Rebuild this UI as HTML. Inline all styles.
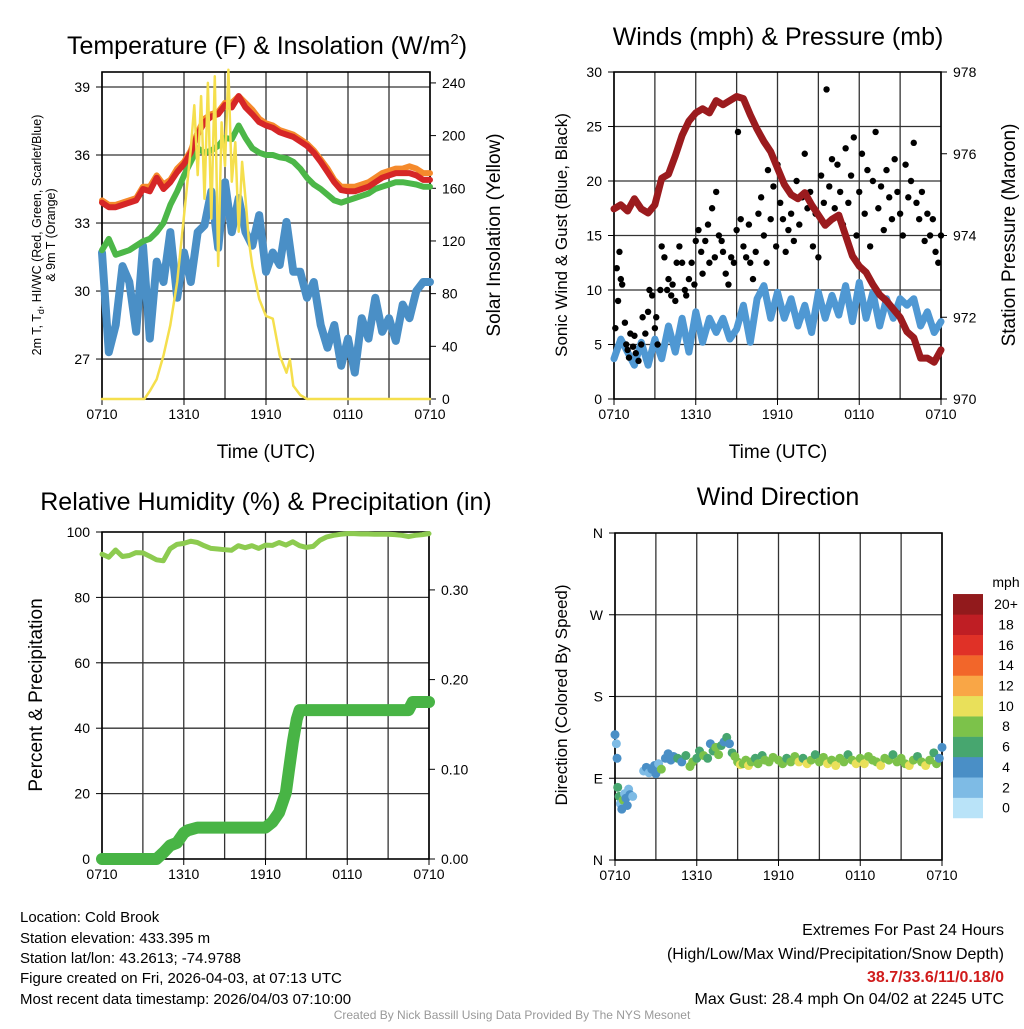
<!DOCTYPE html>
<html><head><meta charset="utf-8">
<style>
body{margin:0;background:#fff;width:1024px;height:1024px;overflow:hidden;font-family:"Liberation Sans",sans-serif}
svg text{font-family:"Liberation Sans",sans-serif}
</style></head>
<body>
<svg id="s" width="1024" height="1024" viewBox="0 0 1024 1024" xmlns="http://www.w3.org/2000/svg">
<g font-size="25" text-anchor="middle" fill="#000">
<text x="267" y="54">Temperature (F) &amp; Insolation (W/m<tspan font-size="15" dy="-10">2</tspan><tspan dy="10">)</tspan></text>
<text x="778" y="45">Winds (mph) &amp; Pressure (mb)</text>
<text x="266" y="510">Relative Humidity (%) &amp; Precipitation (in)</text>
<text x="778" y="505">Wind Direction</text>
</g>
<g font-size="19" text-anchor="middle">
<text x="266" y="458">Time (UTC)</text>
<text x="778" y="458">Time (UTC)</text>
<text transform="translate(500,235) rotate(-90)">Solar Insolation (Yellow)</text>
<text transform="translate(567,235) rotate(-90)" font-size="17">Sonic Wind &amp; Gust (Blue, Black)</text>
<text transform="translate(1015,235) rotate(-90)">Station Pressure (Maroon)</text>
<text transform="translate(42,695) rotate(-90)">Percent &amp; Precipitation</text>
<text transform="translate(567,695) rotate(-90)" font-size="17">Direction (Colored By Speed)</text>
</g>
<g font-size="12.5" text-anchor="middle">
<text transform="translate(41,235) rotate(-90)">2m T, T<tspan font-size="9" dy="3">d</tspan><tspan dy="-3">, HI/WC (Red, Green, Scarlet/Blue)</tspan></text>
<text transform="translate(55,235) rotate(-90)">&amp; 9m T (Orange)</text>
</g>
<g id="plots"></g>
<g font-size="15">
<text x="20" y="922">Location: Cold Brook</text>
<text x="20" y="943">Station elevation: 433.395 m</text>
<text x="20" y="963">Station lat/lon: 43.2613; -74.9788</text>
<text x="20" y="983">Figure created on Fri, 2026-04-03, at 07:13 UTC</text>
<text x="20" y="1004">Most recent data timestamp: 2026/04/03 07:10:00</text>
</g>
<g font-size="16" text-anchor="end">
<text x="1004" y="935">Extremes For Past 24 Hours</text>
<text x="1004" y="959">(High/Low/Max Wind/Precipitation/Snow Depth)</text>
<text x="1004" y="982" fill="#d01c1c" font-weight="bold">38.7/33.6/11/0.18/0</text>
<text x="1004" y="1004">Max Gust: 28.4 mph On 04/02 at 2245 UTC</text>
</g>
<text x="512" y="1019" font-size="12" fill="#999" text-anchor="middle">Created By Nick Bassill Using Data Provided By The NYS Mesonet</text>
</svg>
<script>
const hours=[0,0.5,1,1.5,2,2.5,3,3.5,4,4.5,5,5.5,6,6.5,7,7.5,8,8.5,9,9.5,10,10.5,11,11.5,12,12.5,13,13.5,14,14.5,15,15.5,16,16.5,17,17.5,18,18.5,19,19.5,20,20.5,21,21.5,22,22.5,23,23.5,24];
const tempRed=[33.9,33.7,33.7,33.8,33.9,34.0,34.5,34.4,35.0,34.5,34.8,35.25,35.6,36.1,36.9,37.45,37.7,37.8,38.2,38.1,38.6,38.1,37.8,37.45,37.3,37.2,37.0,36.9,36.8,36.6,36.4,36.1,35.7,35.25,34.8,34.45,34.4,34.4,34.5,34.6,34.8,35.0,35.1,35.2,35.2,35.2,35.1,34.9,34.9];
const tempOrange=[34.0,33.8,33.8,33.9,34.0,34.1,34.6,34.6,35.1,34.7,34.9,35.4,35.7,36.2,37.0,37.6,37.8,37.9,38.3,38.3,38.6,38.3,38.0,37.6,37.4,37.3,37.1,37.0,36.9,36.7,36.5,36.2,35.8,35.4,34.9,34.6,34.6,34.6,34.7,34.8,35.0,35.2,35.3,35.4,35.4,35.5,35.4,35.2,35.2];
const dewGreen=[31.8,32.3,31.6,31.7,31.8,32.0,32.2,32.3,32.6,33.0,33.8,34.4,35.1,35.7,36.3,36.1,36.2,36.4,36.75,36.7,37.3,36.75,36.3,36.1,36.0,36.0,35.9,35.85,35.7,35.4,35.0,34.7,34.5,34.25,34.0,33.9,34.0,34.1,34.2,34.3,34.5,34.6,34.7,34.8,34.8,34.75,34.7,34.6,34.6];
const chillBlue=[31.7,27.3,28.5,31.1,30.4,28.2,32.0,27.9,31.3,30.4,32.6,29.7,31.7,30.4,32.6,32.9,34.4,31.9,34.8,32.6,34.1,32.6,32.0,33.35,30.85,31.7,31.15,33.05,30.85,30.85,29.7,30.4,28.5,27.5,28.5,26.7,27.9,26.4,28.8,27.9,29.7,28.2,28.8,27.8,29.4,28.8,30.0,30.4,30.4];
const solarT=[0,3.1,3.5,4,4.5,5,5.5,6,6.5,6.75,7,7.25,7.5,7.75,8,8.25,8.5,8.75,9,9.25,9.5,9.75,10,10.25,10.5,10.75,11,11.5,12,12.5,13,13.5,13.75,14,14.5,15,24];
const solarV=[0,0,6,15,33,56,89,139,190,223,170,230,152,240,137,245,101,210,177,250,165,195,127,180,152,120,101,76,63,61,33,20,30,10,3,0,0];
const windT=hours;
const windV=[3.7,5.5,4.3,3.1,5.2,3.1,5.5,3.7,6.7,4.3,7.4,4.3,8.0,5.2,7.4,6.1,7.4,5.5,6.4,8.6,5.2,9.2,10.4,7.4,9.8,7.4,9.2,6.7,8.6,6.1,9.8,7.4,9.5,7.7,10.4,7.1,10.7,7.4,9.8,6.7,9.2,7.4,9.2,8.6,9.2,6.7,8.0,6.1,7.1];
const pressure=[974.65,974.75,974.6,974.9,974.65,974.55,974.75,975.4,975.5,975.95,976.45,976.8,977.0,977.1,977.0,977.3,977.2,977.3,977.4,977.35,976.95,976.6,976.3,976.05,975.65,975.25,975.0,974.9,975.05,974.75,974.5,974.25,974.4,974.5,974.0,973.5,973.25,973.1,972.8,972.55,972.4,972.2,972.0,971.65,971.5,971.0,971.0,970.9,971.2];
const gusts=[[0.1,6.5],[0.2,12],[0.3,9],[0.4,13.5],[0.5,11],[0.6,10.5],[0.8,7],[0.9,5],[1.0,4.5],[1.1,3.8],[1.2,6],[1.4,4.8],[1.5,5.8],[1.6,4.2],[1.8,3.5],[2.0,5],[2.1,7.5],[2.3,6],[2.5,8],[2.6,10],[2.8,9.5],[3.0,6.5],[3.1,7.5],[3.2,5],[3.4,10],[3.5,14],[3.7,13],[3.9,10],[4.0,11],[4.2,9.5],[4.3,10.5],[4.5,9],[4.6,12.5],[4.8,14],[5.0,12.5],[5.2,10],[5.3,9.5],[5.5,11],[5.7,12.5],[5.9,10.5],[6.0,14.5],[6.2,15.5],[6.4,13.5],[6.5,11.5],[6.7,14.5],[6.9,16],[7.0,12.5],[7.2,17.5],[7.4,13],[7.5,19],[7.7,15],[7.9,14.5],[8.0,13.5],[8.2,11.5],[8.4,10.5],[8.6,13],[8.8,12.5],[9.0,15.5],[9.1,24.5],[9.3,16.5],[9.5,14],[9.7,13],[9.9,16],[10.0,12.5],[10.2,11],[10.4,13.5],[10.6,17],[10.8,18.5],[11.0,15],[11.2,12.5],[11.3,21],[11.5,16.5],[11.7,19.5],[11.9,14],[12.0,21.5],[12.2,18],[12.4,16.5],[12.6,13.5],[12.8,15.5],[13.0,17],[13.2,14.5],[13.4,20],[13.6,16],[13.8,18.5],[14.0,22.5],[14.2,17.5],[14.4,19],[14.6,14],[14.8,17],[15.0,13],[15.2,20.5],[15.4,18],[15.6,28.4],[15.8,19.5],[16.0,22],[16.2,17.5],[16.4,21.5],[16.6,19],[16.8,16],[17.0,23],[17.2,18],[17.4,20.5],[17.6,24],[17.8,15],[18.0,19],[18.2,22.5],[18.4,17],[18.6,21],[18.8,14],[19.0,20],[19.2,24.5],[19.4,17.5],[19.6,19.5],[19.8,15.5],[20.0,21],[20.2,18.5],[20.4,16.5],[20.6,22],[20.8,19],[21.0,17],[21.2,15],[21.4,21.5],[21.6,18.5],[21.8,20],[22.0,23.5],[22.2,18],[22.4,16.5],[22.6,19],[22.8,14.5],[23.0,17],[23.2,15],[23.4,16.5],[23.6,13.5],[23.8,12.5],[24.0,15]];
const rh=[93.2,92.3,94.5,92.5,92.8,93.7,93.6,92.6,91.5,91.2,94.9,96.2,96.5,97.2,96.8,95.8,95.0,94.8,94.6,94.4,95.8,95.2,95.8,95.0,96.0,95.9,96.8,96.0,97.0,95.8,95.3,95.6,97.5,98.5,99.0,99.3,99.5,99.5,99.4,99.4,99.3,99.3,99.3,99.2,99.0,98.6,99.0,99.2,99.5];
const precipT=[0,4,4.5,5,5.5,6,6.3,7,12,12.5,13,13.5,13.7,14,14.3,14.5,22.5,22.8,24];
const precipV=[0,0,0.007,0.015,0.018,0.029,0.032,0.035,0.035,0.041,0.052,0.074,0.097,0.13,0.156,0.166,0.166,0.175,0.175];
const dirs=[[0,138,3],[0.1,128,2],[0.15,112,3],[0.2,80,6],[0.3,70,5],[0.4,62,2],[0.5,56,4],[0.6,66,8],[0.7,73,2],[0.8,68,3],[0.9,60,4],[1.0,78,2],[1.1,72,3],[1.3,70,2],[2.1,98,2],[2.3,102,4],[2.5,96,2],[2.7,100,4],[2.9,104,3],[3.0,95,4],[3.2,106,2],[3.4,100,8],[3.7,112,4],[3.9,117,4],[4.1,110,4],[4.3,114,4],[4.6,112,6],[4.9,108,4],[5.2,115,6],[5.5,103,7],[5.7,108,8],[6.0,112,6],[6.2,120,6],[6.5,115,7],[6.8,112,6],[7.0,128,4],[7.2,120,6],[7.4,124,7],[7.6,116,8],[7.8,126,6],[8.0,130,4],[8.2,135,6],[8.4,128,4],[8.6,118,6],[8.8,114,7],[9.0,108,8],[9.2,105,9],[9.4,106,8],[9.6,110,8],[9.8,104,9],[10.0,108,7],[10.3,112,6],[10.5,106,8],[10.8,115,6],[11.0,110,7],[11.3,108,8],[11.6,113,8],[12.0,110,7],[12.3,106,8],[12.6,112,6],[12.9,108,7],[13.2,114,7],[13.5,108,9],[13.8,112,6],[14.1,106,9],[14.4,110,8],[14.7,116,6],[15.0,108,7],[15.3,113,8],[15.6,106,9],[15.9,110,8],[16.2,104,9],[16.5,112,7],[16.8,108,7],[17.1,116,6],[17.4,110,8],[17.7,106,9],[18.0,112,8],[18.3,106,9],[18.6,114,7],[18.9,110,8],[19.2,108,7],[19.5,104,9],[19.8,112,8],[20.1,110,7],[20.4,116,6],[20.7,108,8],[21.0,112,7],[21.3,106,8],[21.6,104,9],[21.9,110,8],[22.2,114,6],[22.5,108,8],[22.8,104,9],[23.1,110,8],[23.4,118,6],[23.6,106,8],[23.8,112,4],[24.0,124,4]];
const speedColors=["#b9e3f8","#7ebbe5","#4a8fc6","#47a66f","#7cc24a","#e9e05a","#f9a646","#f2662a","#e03127","#bf1e24","#921a1c"];
const speedLabels=["0","2","4","6","8","10","12","14","16","18","20+"];
const xTickLabels=["0710","1310","1910","0110","0710"];

const NS="http://www.w3.org/2000/svg";
const root=document.getElementById('plots');
function el(tag,attrs,parent){const e=document.createElementNS(NS,tag);for(const k in attrs)e.setAttribute(k,attrs[k]);(parent||root).appendChild(e);return e;}
function mk(x0,x1,y0,y1){return{x:h=>x0+(x1-x0)*h/24,x0,x1,y0,y1};}
function frame(P,name,hLines,rightTicks,leftTicks){
  const g=el('g',{});
  
  
  for(let h=0;h<=24;h+=3)el('line',{x1:P.x(h),x2:P.x(h),y1:P.y0,y2:P.y1,stroke:'#333','stroke-width':1.3},g);
  hLines.forEach(y=>el('line',{x1:P.x0,x2:P.x1,y1:y,y2:y,stroke:'#333','stroke-width':1.3},g));
  el('rect',{x:P.x0,y:P.y0,width:P.x1-P.x0,height:P.y1-P.y0,fill:'none',stroke:'#000','stroke-width':1.6},g);
  xTickLabels.forEach((t,i)=>{const x=P.x(i*6);
    el('line',{x1:x,x2:x,y1:P.y1,y2:P.y1+6,stroke:'#000'},g);
    const tx=el('text',{x:x,y:P.y1+20,'font-size':14,'text-anchor':'middle'},g);tx.textContent=t;
    
    });
  leftTicks.forEach(([y,t])=>{el('line',{x1:P.x0-6,x2:P.x0,y1:y,y2:y,stroke:'#000'},g);
    const tx=el('text',{x:P.x0-12,y:y+5,'font-size':14,'text-anchor':'end'},g);tx.textContent=t;
    
    });
  rightTicks.forEach(([y,t])=>{el('line',{x1:P.x1,x2:P.x1+6,y1:y,y2:y,stroke:'#000'},g);
    const tx=el('text',{x:P.x1+12,y:y+5,'font-size':14,'text-anchor':'start'},g);tx.textContent=t;
    
    });
  return g;
}
function line(P,xs,ys,yf,color,w,name){
  const d=xs.map((h,i)=>(i?'L':'M')+P.x(h).toFixed(1)+','+yf(ys[i]).toFixed(1)).join('');
  const p=el('path',{d,fill:'none',stroke:color,'stroke-width':w,'stroke-linejoin':'round','stroke-linecap':'round'});
  
  
  return p;
}
// Plot 1
const P1=mk(102,430,72,399);
const tY=v=>87+(39-v)*22.67, sY=v=>399-v*1.317;
frame(P1,'temp-plot',[39,36,33,30,27].map(tY),[0,40,80,120,160,200,240].map(v=>[sY(v),v]),[39,36,33,30,27].map(v=>[tY(v),v]));
line(P1,hours,chillBlue,tY,'#4a8fc6',8,'hiwc-line');
line(P1,hours,dewGreen,tY,'#4cb748',6,'dewpoint-line');
line(P1,hours,tempOrange,tY,'#f58a2c',6,'9m-temp-line');
line(P1,hours,tempRed,tY,'#d62627',6,'2m-temp-line');
line(P1,solarT,solarV,sY,'#f5df4d',2.5,'solar-line');
// Plot 2
const P2=mk(614,941,72,399);
const wY=v=>399-v*10.9, pY=v=>399-(v-970)*40.875;
frame(P2,'wind-plot',[5,10,15,20,25].map(wY),[970,972,974,976,978].map(v=>[pY(v),v]),[0,5,10,15,20,25,30].map(v=>[wY(v),v]));
line(P2,windT,windV,wY,'#4f98d3',7,'wind-line');
gusts.forEach(([h,v])=>{const c=el('circle',{cx:P2.x(h),cy:wY(v),r:3.2,fill:'#000'});
  
  });
line(P2,hours,pressure,pY,'#9b1b1e',7,'pressure-line');
// Plot 3
const P3=mk(102,429,532,859);
const rY=v=>859-v*3.27, prY=v=>859-v*897;
frame(P3,'rh-plot',[20,40,60,80].map(rY),[0,0.1,0.2,0.3].map(v=>[prY(v),v.toFixed(2)]),[0,20,40,60,80,100].map(v=>[rY(v),v]));
line(P3,hours,rh,rY,'#8dcb50',5,'rh-line');
line(P3,precipT,precipV,prY,'#48b445',12,'precip-line');
// Plot 4
const P4=mk(615,942,533,860);
const dY=v=>860-v*(327/360);
frame(P4,'direction-plot',[90,180,270].map(dY),[],[[dY(0),'N'],[dY(90),'E'],[dY(180),'S'],[dY(270),'W'],[dY(360),'N']]);
dirs.forEach(([h,d,s])=>{const i=Math.min(10,Math.round(s/2));
  const c=el('circle',{cx:P4.x(h),cy:dY(d),r:4.5,fill:speedColors[i]});
  
  });
// colorbar
const cb=el('g',{});


const mt=el('text',{x:1006,y:587,'font-size':14,'text-anchor':'middle'},cb);mt.textContent='mph';
speedColors.forEach((c,i)=>{const y=818-(i+1)*20.36;
  el('rect',{x:953,y:y,width:30,height:20.6,fill:c},cb);
  const t=el('text',{x:1006,y:y+15,'font-size':14,'text-anchor':'middle'},cb);t.textContent=speedLabels[i];});
</script>
</body></html>
